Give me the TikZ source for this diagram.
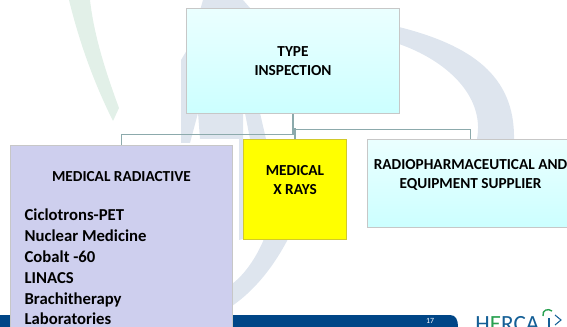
\documentclass[tikz,border=0pt]{standalone}
\usepackage{fontspec}
\setmainfont{Carlito}
\usepackage{tikz}
\usetikzlibrary{positioning}
\definecolor{figgray}{RGB}{222,229,238}
\definecolor{arcgreen}{RGB}{226,240,232}
\definecolor{linkcol}{RGB}{140,170,172}
\definecolor{barblue}{RGB}{0,70,135}
\definecolor{lilac}{RGB}{206,207,238}
\definecolor{iceblue}{RGB}{204,255,255}
\definecolor{logoblue}{RGB}{20,95,150}
\definecolor{logogreen}{RGB}{40,160,80}
\definecolor{xraysyellow}{RGB}{255,255,0}
\begin{document}
\begin{tikzpicture}[x=.02cm,y=-.02cm,
		typebox/.style={draw=black!22,semithick,anchor=north west,inner sep=0pt},
		icebox/.style={typebox,top color=iceblue!40,bottom color=iceblue},
		boxtext/.style={inner sep=0pt,align=center,font=\bfseries\fontsize{8.7}{10.7}\selectfont},
		listtext/.style={inner sep=0pt,align=left,font=\bfseries\fontsize{9.5}{11.85}\selectfont},
		link/.style={draw=linkcol,semithick}]
		\useasboundingbox (0,0) rectangle (567,327);
		% watermark
		\fill[arcgreen] (69,0) .. controls (80,45) and (95,85) .. (113,121) -- (119,108) .. controls (105,70) and (94,35) .. (90,0) -- cycle;
		\fill[figgray] (399,27) .. controls (470,45) and (515,75) .. (514,139) -- (477,139) .. controls (485,95) and (445,60) .. (399,44) -- cycle;
		\fill[figgray] (203,0) -- (243,0) -- (250,8) -- (250,113) -- (243,113) -- (243,239) -- (239,240) -- (239,139) -- (200,139) -- (198,113) -- (190,143) -- (181,143) -- (181,60) -- (190,45) -- cycle;
		\fill[figgray] (245,113) -- (260,113) -- (266,139) -- (250,139) -- cycle;
		\fill[figgray] (232,306) .. controls (258,288) and (276,262) .. (288,239) -- (264,239) .. controls (256,258) and (245,274) .. (232,284) -- cycle;
		% bar
		\fill[barblue] (0,315) -- (450,315) .. controls (456,315) and (458,320) .. (458,327) -- (0,327) -- cycle;
		\node[text=white,inner sep=0pt,font=\fontsize{4.5}{5}\selectfont] (pagenum) at (430,321) {17};
		% logo
		\node[anchor=base west,inner sep=0pt,text=logoblue,font=\fontsize{13.2}{14}\selectfont] (herca) at (475,331) {H\textcolor{logogreen}{E}RCA};
		\draw[logogreen,thick] (543,316) .. controls (542,310) and (548,308) .. (552,311);
		\draw[logoblue,semithick] (555,315) -- (561,320) -- (555,325);
		\draw[logoblue,semithick] (549,318) -- (549,327);
		% boxes
		\node[icebox,minimum width=4.26cm,minimum height=2.1cm] (inspect) at (186,8) {};
		\node[typebox,fill=lilac,minimum width=4.44cm,minimum height=3.8cm] (radiactive) at (10,145) {};
		\node[typebox,draw=yellow!80!black,fill=xraysyellow,minimum width=2.06cm,minimum height=2cm] (xrays) at (243,139) {};
		\node[icebox,minimum width=4.12cm,minimum height=1.76cm] (supplier) at (367,139) {};
		% links
		\draw[link] (inspect.south) -- ++(0,20) -| (radiactive.north);
		\draw[link] (inspect.south) -- ++(0,15) -| (supplier.north);
		\draw[link] (xrays.north) -- ++(0,-11);
		% texts
		\node[boxtext] (inspecttext) at (inspect.center) {TYPE\\INSPECTION};
		\node[boxtext,below=.52cm of radiactive.north] (radiactivetitle) {MEDICAL RADIACTIVE};
		\node[listtext,below=.54cm of radiactivetitle.south west,anchor=north west,xshift=-.55cm] (radiactivelist) {Ciclotrons-PET\\Nuclear Medicine\\Cobalt -60\\LINACS\\Brachitherapy\\Laboratories};
		\node[boxtext,below=.52cm of xrays.north] (xraystext) {MEDICAL\\X RAYS};
		\node[boxtext,below=.4cm of supplier.north] (suppliertext) {RADIOPHARMACEUTICAL AND\\EQUIPMENT SUPPLIER};
	\end{tikzpicture}
\end{document}
